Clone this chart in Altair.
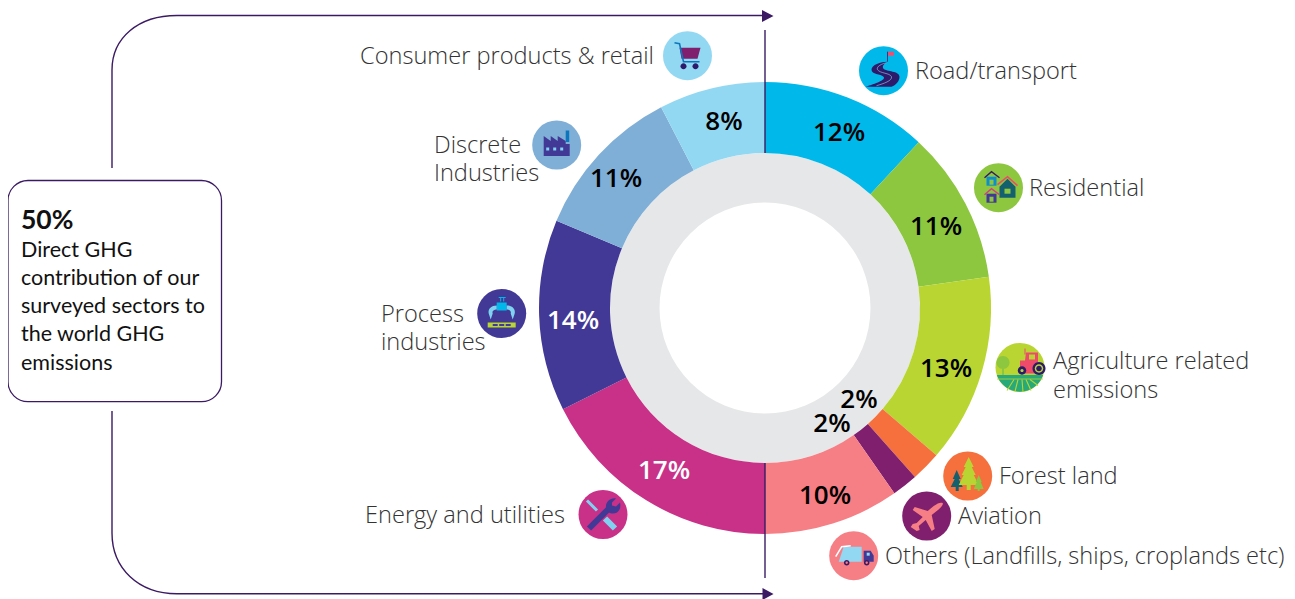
import math
import numpy as np
import pandas as pd
import altair as alt

# ---- chart values ----
sectors = ["Road/transport", "Residential", "Agriculture related emissions", "Forest land", "Aviation",
           "Others (Landfills, ships, croplands etc)", "Energy and utilities", "Process industries",
           "Discrete Industries", "Consumer products & retail"]
shares = [11.9, 10.9, 13.5, 2.15, 1.85, 9.7, 17.6, 13.7, 11.1, 7.6]
share_labels = ["12%", "11%", "13%", "2%", "2%", "10%", "17%", "14%", "11%", "8%"]
colors = ["#00B8E9", "#8DC63F", "#B9D532", "#F5703C", "#7F1F6E", "#F67E85", "#C93188", "#423996", "#7FAFD6", "#93D8F2"]
label_colors = ["#000000"] * 6 + ["#FFFFFF", "#FFFFFF"] + ["#000000"] * 2

box_title = "50%"
box_lines = ["Direct GHG", "contribution of our", "surveyed sectors to", "the world GHG", "emissions"]

# ---- layout (page pixels) ----
OFF = 8
CX, CY = 765, 308
R_OUT, R_IN, R_HOLE = 226, 155, 105.5
PURPLE = "#3B1A63"
NAVY = "#2E1A6B"

pct_x = [839, 936, 946, 859, 832, 825, 664, 573, 616, 724]
pct_y = [133, 227, 369, 400, 424, 496, 471, 321, 179, 122]

icon_x = [883.5, 998.5, 1020, 967.7, 926.7, 853.7, 603, 501.7, 556.7, 687.5]
icon_y = [70.7, 187.7, 367.5, 476, 516, 555.7, 514.5, 313.5, 145, 55.7]

name_text = ["Road/transport", "Residential", "Agriculture related", "emissions", "Forest land", "Aviation",
             "Others (Landfills, ships, croplands etc)", "Energy and utilities", "Process", "industries",
             "Discrete", "Industries", "Consumer products & retail"]
name_x = [915, 1029, 1053, 1053, 999, 958, 885, 365, 381, 381, 434, 434, 360]
name_y = [72, 188.5, 362, 390.5, 477, 517, 557, 516, 315, 343, 146, 174, 56.5]

box_line_y = [251, 279, 307, 335, 364]


def circ(x, y, r):
    return f"M{x-r},{y}a{r},{r} 0 1,0 {2*r},0a{r},{r} 0 1,0 {-2*r},0Z"


def rect(x0, y0, x1, y1):
    return f"M{x0},{y0}L{x1},{y0}L{x1},{y1}L{x0},{y1}Z"


BG = "transparent"
glyphs = {
    # road
    0: [("M4,-9C-3,-9 -12,-6 -12,-1C-12,4 -3,3 0,6C3,9 -8,13 -18,16L8,16C13,14 16,10 16,6C16,0 3,1 0,-2C-2,-5 1,-7 4,-9Z", NAVY, BG, 0),
        ("M3,-8C-5,-6 -7,-3 -6,-1C-3,3 6,2 8,6C9,10 0,13 -7,15", BG, "#93D8F2", 0.6),
        ("M4,-19L4,-9", BG, PURPLE, 0.8),
        (rect(4.5, -19, 10.5, -15), "#EC4F73", BG, 0)],
    # residential
    1: [(rect(-12, -11, -2, -2), "#0E8FCB", BG, 0), (rect(-9, -8, -5, -3), "#8DC63F", BG, 0),
        ("M-14,-10L-7,-16L1,-10", BG, PURPLE, 1.4),
        ("M1,-1L9,-9L17,-1L17,10L1,10Z", "#14606E", BG, 0), (rect(6, 1, 12, 6), "#8DC63F", BG, 0),
        ("M-1,-3L9,-11L19,-2", BG, "#EE4B6A", 1.6),
        (rect(-12, 6, -2, 15), "#423996", BG, 0), (rect(-9, 9, -5, 14), "#8DC63F", BG, 0),
        ("M-14,7L-7,1L1,7", BG, "#D83A8C", 1.4)],
    # agriculture
    2: [("M-23.2,7.5A24.5,24.5 0 0 0 23.2,7.5Z", "#27A97A", BG, 0),
        ("M-6,12L-13,23M-2,12L-5,24M2,12L3,24.5M6,12L11,23M10,12L18,18", BG, "#B9D532", 1.1),
        ("M-23,11.5L23,11.5", BG, "#B9D532", 0.8),
        (circ(-17, -5, 6.5), "#8DC63F", BG, 0), (rect(-18, -1, -16, 7.5), "#8DC63F", BG, 0),
        ("M0,-7L5,-7L6,-15L18,-15L18,6L0,6Z", "#EE4B6A", BG, 0), (rect(9, -13, 15, -8), "#B9D532", BG, 0),
        ("M5,-19L5,-13", BG, "#EE4B6A", 1),
        (circ(19, 1, 6.5), NAVY, BG, 0), (circ(19, 1, 4.2), "#B9D532", BG, 0), (circ(19, 1, 2.8), NAVY, BG, 0),
        (circ(2, 3, 4.2), NAVY, BG, 0), (circ(2, 3, 1.6), "#B9D532", BG, 0)],
    # forest
    3: [("M-11,-6L-7,3L-9,3L-5,11L-9,11L-9,15L-12,15L-12,11L-17,11L-13,3L-15,3Z", "#14606E", BG, 0),
        ("M1,-19L6,-9L4,-9L8,-1L6,-1L11,9L3,9L3,14L-1,14L-1,9L-9,9L-4,-1L-6,-1L-2,-9L-4,-9Z", "#B9D532", BG, 0),
        ("M11,-1L14,6L13,6L16,13L12,13L12,15L10,15L10,13L6,13L9,6L8,6Z", "#8DC63F", BG, 0)],
    # aviation
    4: [("M16,-13C17,-11 14,-8 10,-5L5,-1L8,13L5,15L-1,4L-8,10L-7,14L-10,15L-16,11L-14,8L-10,7L-4,1L-14,-6L-12,-9L1,-5L7,-10C11,-13 14,-14 16,-13Z", "#F67E85", BG, 0)],
    # others
    5: [("M-15,6L-10,-9L8,-9L8,6Z", "#93D8F2", BG, 0),
        ("M-18,1L-12,-9L-3,-10", BG, "#FFFFFF", 1.6),
        ("M10,-5L17,-5L20,0L20,6L10,6Z", "#423996", BG, 0), (rect(13, -3, 16, 0), "#93D8F2", BG, 0),
        (circ(-7, 7, 2.8), PURPLE, BG, 0), (circ(-7, 7, 1.2), "#F67E85", BG, 0),
        (circ(13, 7, 2.8), PURPLE, BG, 0), (circ(13, 7, 1.2), "#F67E85", BG, 0)],
    # energy
    6: [("M-16,-14L-6,-4", BG, "#7FD3F0", 3), ("M2,4L12,14", BG, "#7FD3F0", 6),
        ("M-14,14L5,-5", BG, "#423996", 6),
        ("M13,-16C7,-17 2,-12 3,-6C4,-1 10,0 14,-2C17,-4 18,-8 17,-12L13,-8L9,-9L9,-12Z", "#423996", BG, 0)],
    # process
    7: [("M-1,-16L-1,-12M2,-16L2,-12M-3,-16L4,-16", BG, "#00B8E9", 1),
        (rect(-5, -11, 5, -3), "#00B8E9", BG, 0),
        ("M-5,-8C-10,-8 -14,-5 -13,0L-11,6L-9,0C-10,-3 -7,-4 -5,-4Z", "#7FD3F0", BG, 0),
        ("M5,-8C10,-8 14,-5 13,0L11,6L9,0C10,-3 7,-4 5,-4Z", "#7FD3F0", BG, 0),
        (rect(-14, 9, 14, 14), "#B9D532", BG, 0),
        (rect(-9, 10.5, -4, 12.5), "#423996", BG, 0), (rect(-2.5, 10.5, 2.5, 12.5), "#423996", BG, 0),
        (rect(4, 10.5, 9, 12.5), "#423996", BG, 0)],
    # discrete
    8: [("M-13,11L-13,-9L-6,-4L-6,-9L1,-4L1,-9L9,-4L9,-1L13,-1L13,11Z", "#423996", BG, 0),
        (rect(9, -14.5, 12.5, -3), "#0E76BC", BG, 0),
        (rect(-10.5, 2.5, -7.5, 5.5), "#7FD3F0", BG, 0), (rect(-3.5, 2.5, -0.5, 5.5), "#7FD3F0", BG, 0),
        (rect(3.5, 2.5, 6.5, 5.5), "#7FD3F0", BG, 0)],
    # consumer
    9: [("M-8,-8L13,-8L10,3L-6,3Z", "#7F1F6E", BG, 0),
        ("M-13,-13L-8,-12L-4,6L12,6", BG, "#0E76BC", 1.6),
        (circ(-4, 10.5, 3), NAVY, BG, 0), (circ(8, 10.5, 3), NAVY, BG, 0)],
}

# ---- tables ----
end = np.cumsum(shares)
df = pd.DataFrame({"sector": sectors, "share": shares, "label": share_labels, "ink": label_colors,
                   "start": end - np.array(shares), "end": end,
                   "px": np.array(pct_x) - OFF, "py": np.array(pct_y) - OFF})
icons = pd.DataFrame({"x": np.array(icon_x) - OFF, "y": np.array(icon_y) - OFF, "c": colors})
rows = []
for i, parts in glyphs.items():
    for k, (p, fill, stroke, sw) in enumerate(parts):
        rows.append({"n": len(rows), "x": icon_x[i] - OFF, "y": icon_y[i] - OFF, "path": p,
                     "fill": fill, "stroke": stroke, "sw": sw})
glyph_df = pd.DataFrame(rows)
names = pd.DataFrame({"t": name_text, "x": np.array(name_x) - OFF, "y": np.array(name_y) - OFF})
box_df = pd.DataFrame({"t": box_lines, "y": np.array(box_line_y) - OFF})

theta_scale = alt.Scale(domain=[0, 100], range=[0, 2 * math.pi])
px = lambda f: alt.X(f, scale=None, axis=None)
py = lambda f: alt.Y(f, scale=None, axis=None)
cx, cy = alt.value(CX - OFF), alt.value(CY - OFF)

ring = alt.Chart(df.head(1)).mark_arc(radius=R_IN, radius2=R_HOLE, theta=0, theta2=2 * math.pi, color="#E6E7E8").encode(x=cx, y=cy)

arcs = alt.Chart(df).mark_arc(radius=R_OUT, radius2=R_IN).encode(
    theta=alt.Theta("start:Q", scale=theta_scale),
    theta2="end:Q",
    color=alt.Color("sector:N", scale=alt.Scale(domain=sectors, range=colors), legend=None),
    x=cx, y=cy)

pct = alt.Chart(df).mark_text(font="Open Sans", fontWeight=600, fontSize=26, align="center", baseline="middle").encode(
    x=px("px:Q"), y=py("py:Q"), text="label:N", color=alt.Color("ink:N", scale=None))

TOP_PATH = "M112,168L112,70C112,38 138,15.5 177,15.5L763,15.5"
BOT_PATH = "M112,411L112,533C112,568 138,593.7 177,593.7L763,593.7"
V1 = "M765,30L765,153"
V2 = "M765,463L765,578"
ARROW1 = "M762,10L773.5,16L762,22Z"
ARROW2 = "M762.5,588L773.5,594L762.5,600Z"
paths = pd.DataFrame({"n": range(6), "path": [TOP_PATH, BOT_PATH, V1, V2, ARROW1, ARROW2],
                      "fill": [BG, BG, BG, BG, PURPLE, PURPLE], "stroke": [PURPLE] * 4 + [BG, BG]})
conn = alt.Chart(paths).mark_point(filled=True, size=4, opacity=1, strokeWidth=1.4).encode(
    x=alt.value(-OFF), y=alt.value(-OFF), shape=alt.Shape("path:N", scale=None),
    fill=alt.Fill("fill:N", scale=None), stroke=alt.Stroke("stroke:N", scale=None), order="n:Q")

box = alt.Chart(df.head(1)).mark_rect(fill="#FFFFFF", stroke=PURPLE, strokeWidth=1.3, cornerRadius=20).encode(
    x=alt.value(8 - OFF), x2=alt.value(221.5 - OFF), y=alt.value(180.5 - OFF), y2=alt.value(401.7 - OFF))
box_head = alt.Chart(df.head(1)).mark_text(text=box_title, font="Lato", fontWeight=700, fontSize=26.5, align="left",
                                           baseline="middle", color="#111111").encode(x=alt.value(21 - OFF), y=alt.value(221 - OFF))
box_txt = alt.Chart(box_df).mark_text(font="Lato", fontSize=21.5, align="left", baseline="middle", color="#111111").encode(
    x=alt.value(21 - OFF), y=py("y:Q"), text="t:N")

icon_marks = alt.Chart(icons).mark_circle(size=2401, opacity=1).encode(x=px("x:Q"), y=py("y:Q"), color=alt.Color("c:N", scale=None))
glyph_marks = alt.Chart(glyph_df).mark_point(filled=True, size=4, opacity=1).encode(
    x=px("x:Q"), y=py("y:Q"), shape=alt.Shape("path:N", scale=None), fill=alt.Fill("fill:N", scale=None),
    stroke=alt.Stroke("stroke:N", scale=None), strokeWidth=alt.StrokeWidth("sw:Q", scale=None), order="n:Q")
name_marks = alt.Chart(names).mark_text(font="Open Sans", fontWeight=300, fontSize=23.6, align="left", baseline="middle",
                                        color="#333333").encode(x=px("x:Q"), y=py("y:Q"), text="t:N")

chart = alt.layer(ring, arcs, conn, pct, box, box_head, box_txt, icon_marks, glyph_marks, name_marks).properties(
    width=1279, height=592, padding=0,
    autosize=alt.AutoSizeParams(type="none", contains="padding"),
    background="#FFFFFF").configure_view(stroke=None)

chart.save("out.html", embed_options={"renderer": "svg", "actions": False})
